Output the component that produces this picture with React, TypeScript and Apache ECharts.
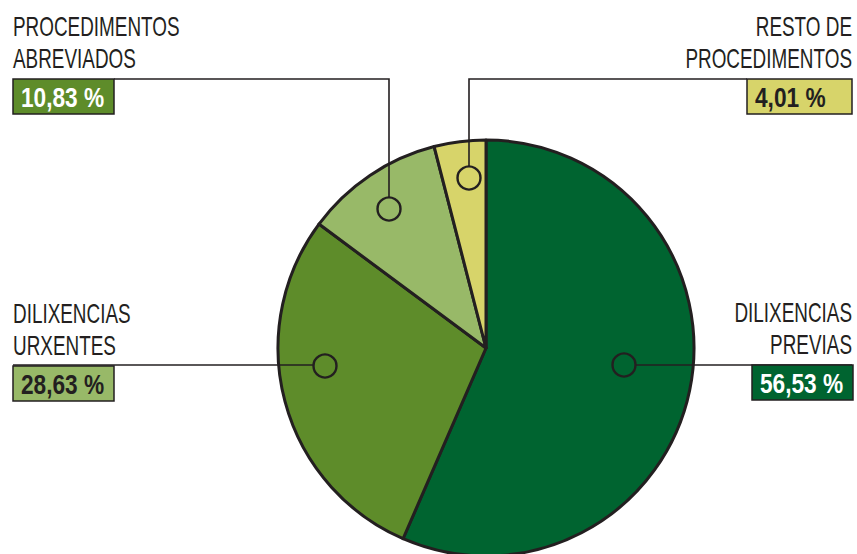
import React, { useEffect, useRef } from "react";
import * as echarts from "echarts";

const categories = ["DILIXENCIAS PREVIAS", "DILIXENCIAS URXENTES", "PROCEDIMENTOS ABREVIADOS", "RESTO DE PROCEDIMENTOS"];
const nameLines = [
  ["DILIXENCIAS", "PREVIAS"],
  ["DILIXENCIAS", "URXENTES"],
  ["PROCEDIMENTOS", "ABREVIADOS"],
  ["RESTO DE", "PROCEDIMENTOS"],
];
const values = [56.53, 28.63, 10.83, 4.01];
const sliceColors = ["#006430", "#5e8c2a", "#98b968", "#d7d46a"];
const boxColors = ["#006430", "#98b968", "#5e8c2a", "#d7d46a"];
const boxTextColors = ["#ffffff", "#231f20", "#ffffff", "#231f20"];

const INK = "#231f20";
const FONT = "'Liberation Sans', Arial, sans-serif";

// annotation layout (positions only)
const annot = [
  { side: "right", textX: 852, lineY: [313, 345], box: [752, 365, 101, 35], leader: [[636, 365], [852, 365]], circle: [624, 365] },
  { side: "left", textX: 13, lineY: [314, 346], box: [13, 366, 101, 35], leader: [[13, 365], [313, 365]], circle: [325, 366] },
  { side: "left", textX: 13, lineY: [27, 59], box: [13, 79, 101, 35], leader: [[114, 79], [389, 79], [389, 197]], circle: [389, 209] },
  { side: "right", textX: 852, lineY: [27, 59], box: [747, 79, 105, 35], leader: [[469, 166], [469, 79], [747, 79]], circle: [469, 178] },
];

const fmt = (v: number) => v.toFixed(2).replace(".", ",") + " %";

export default function App() {
  const ref = useRef<HTMLDivElement>(null);
  useEffect(() => {
    if (!ref.current) return;
    const chart = echarts.init(ref.current, null, { renderer: "svg" });
    const graphics: any[] = [];
    annot.forEach((a, i) => {
      graphics.push({
        type: "polyline",
        z: 10,
        shape: { points: a.leader },
        style: { stroke: INK, lineWidth: 1.6, fill: null },
      });
      graphics.push({
        type: "circle",
        z: 11,
        shape: { cx: a.circle[0], cy: a.circle[1], r: 11.5 },
        style: { fill: null, stroke: INK, lineWidth: 2.4 },
      });
      nameLines[i].forEach((t, j) => {
        graphics.push({
          type: "text",
          z: 12,
          x: a.textX,
          y: a.lineY[j],
          scaleX: 0.7,
          style: {
            x: 0,
            y: 0,
            text: t,
            fill: INK,
            fontSize: 27,
            fontFamily: FONT,
            align: a.side === "right" ? "right" : "left",
            verticalAlign: "middle",
          },
        });
      });
      graphics.push({
        type: "rect",
        z: 12,
        shape: { x: a.box[0], y: a.box[1], width: a.box[2], height: a.box[3] },
        style: { fill: boxColors[i], stroke: INK, lineWidth: 1.5 },
      });
      graphics.push({
        type: "text",
        z: 13,
        x: a.box[0] + 8,
        y: a.box[1] + a.box[3] / 2 + 1,
        scaleX: 0.81,
        style: {
          x: 0,
          y: 0,
          text: fmt(values[i]),
          fill: boxTextColors[i],
          fontSize: 28,
          fontWeight: "bold",
          fontFamily: FONT,
          align: "left",
          verticalAlign: "middle",
        },
      });
    });

    chart.setOption({
      animation: false,
      backgroundColor: "#ffffff",
      series: [
        {
          type: "pie",
          center: [486, 348],
          radius: 208,
          startAngle: 90,
          clockwise: true,
          label: { show: false },
          labelLine: { show: false },
          emphasis: { disabled: true },
          itemStyle: { borderColor: INK, borderWidth: 3 },
          data: categories.map((c, i) => ({ name: c, value: values[i], itemStyle: { color: sliceColors[i] } })),
        },
      ],
      graphic: graphics,
    });
    return () => chart.dispose();
  }, []);
  return <div ref={ref} style={{ position: "fixed", left: 0, top: 0, width: 857, height: 554 }} />;
}
